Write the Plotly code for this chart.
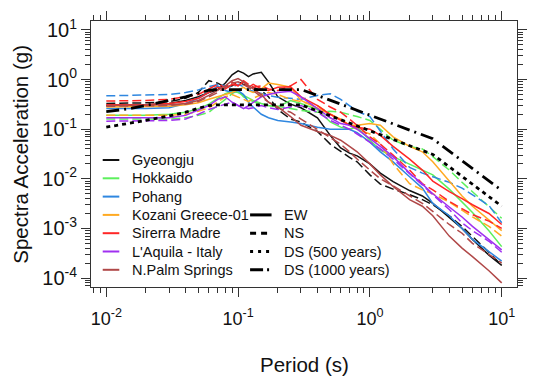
import plotly.graph_objects as go

# ---- response spectra of the recorded ground motions (period in s, Sa in g) ----
periods = [0.01, 0.02, 0.03, 0.04, 0.05, 0.06, 0.07, 0.08, 0.09, 0.10,
           0.11, 0.12, 0.13, 0.15, 0.17, 0.20, 0.25, 0.30, 0.40, 0.50,
           0.60, 0.70, 0.80, 1.0, 1.2, 1.5, 2.0, 2.5, 3.0, 4.0,
           5.0, 6.0, 8.0, 10.0]

gyeongju_ew = [0.30, 0.31, 0.33, 0.38, 0.45, 0.55, 0.62, 0.85, 1.25, 1.50,
               1.35, 1.15, 1.30, 1.40, 0.90, 0.45, 0.32, 0.27, 0.17, 0.075,
               0.042, 0.033, 0.029, 0.020, 0.013, 0.0088, 0.0058, 0.0045, 0.0032, 0.0017,
               0.0010, 0.0006, 0.00029, 0.00018]
gyeongju_ns = [0.33, 0.34, 0.36, 0.42, 0.55, 0.95, 0.85, 0.70, 0.75, 0.90,
               0.80, 0.75, 0.70, 0.60, 0.45, 0.25, 0.16, 0.14, 0.09, 0.05,
               0.035, 0.027, 0.022, 0.012, 0.0078, 0.0062, 0.0048, 0.0038, 0.0030, 0.0018,
               0.0011, 0.0007, 0.00033, 0.00018]

hokkaido_ew = [0.19, 0.19, 0.20, 0.22, 0.26, 0.32, 0.42, 0.52, 0.58, 0.55,
               0.48, 0.42, 0.38, 0.33, 0.30, 0.28, 0.38, 0.33, 0.25, 0.14,
               0.11, 0.10, 0.11, 0.06, 0.038, 0.028, 0.020, 0.015, 0.012, 0.0062,
               0.0035, 0.0021, 0.0009, 0.00043]
hokkaido_ns = [0.16, 0.16, 0.16, 0.17, 0.19, 0.22, 0.30, 0.40, 0.52, 0.60,
               0.45, 0.40, 0.36, 0.32, 0.30, 0.29, 0.26, 0.24, 0.22, 0.23,
               0.22, 0.20, 0.18, 0.15, 0.10, 0.06, 0.045, 0.040, 0.028, 0.015,
               0.0085, 0.0055, 0.0028, 0.0016]

pohang_ew = [0.26, 0.26, 0.27, 0.33, 0.42, 0.55, 0.75, 0.60, 0.55, 0.60,
             0.50, 0.35, 0.28, 0.20, 0.17, 0.15, 0.14, 0.13, 0.11, 0.10,
             0.10, 0.10, 0.085, 0.055, 0.035, 0.022, 0.011, 0.0065, 0.0032, 0.0018,
             0.0010, 0.0006, 0.00034, 0.00022]
pohang_ns = [0.47, 0.48, 0.50, 0.55, 0.62, 0.72, 0.80, 0.75, 0.70, 0.80,
             0.72, 0.62, 0.58, 0.52, 0.48, 0.44, 0.42, 0.40, 0.48, 0.52,
             0.40, 0.30, 0.23, 0.18, 0.09, 0.040, 0.017, 0.013, 0.011, 0.0085,
             0.0065, 0.0048, 0.0029, 0.0013]

kozani_ew = [0.28, 0.28, 0.29, 0.31, 0.34, 0.40, 0.45, 0.50, 0.55, 0.62,
             0.70, 0.60, 0.55, 0.65, 0.85, 0.80, 0.70, 0.38, 0.26, 0.20,
             0.16, 0.12, 0.12, 0.13, 0.12, 0.07, 0.045, 0.035, 0.022, 0.009,
             0.0045, 0.0028, 0.0015, 0.0009]
kozani_ns = [0.19, 0.19, 0.19, 0.20, 0.23, 0.27, 0.35, 0.45, 0.50, 0.45,
             0.40, 0.36, 0.42, 0.50, 0.55, 0.50, 0.40, 0.36, 0.30, 0.20,
             0.16, 0.12, 0.10, 0.08, 0.05, 0.02, 0.008, 0.006, 0.005, 0.0034,
             0.0023, 0.0017, 0.0011, 0.0007]

sierra_ew = [0.31, 0.31, 0.33, 0.36, 0.42, 0.55, 0.70, 0.65, 0.80, 0.75,
             0.90, 0.70, 0.80, 0.65, 0.60, 0.70, 0.72, 0.45, 0.30, 0.20,
             0.15, 0.12, 0.11, 0.10, 0.075, 0.045, 0.025, 0.015, 0.009, 0.0055,
             0.0040, 0.0030, 0.0020, 0.0012]
sierra_ns = [0.37, 0.38, 0.40, 0.45, 0.50, 0.65, 0.80, 0.70, 0.90, 0.75,
             0.95, 0.80, 0.70, 0.75, 0.65, 0.60, 0.75, 1.00, 0.40, 0.28,
             0.22, 0.16, 0.12, 0.07, 0.05, 0.030, 0.015, 0.008, 0.006, 0.0035,
             0.0025, 0.0019, 0.0014, 0.0010]

laquila_ew = [0.17, 0.17, 0.17, 0.19, 0.24, 0.30, 0.40, 0.45, 0.35, 0.30,
              0.26, 0.30, 0.35, 0.45, 0.50, 0.55, 0.58, 0.45, 0.26, 0.17,
              0.13, 0.12, 0.10, 0.065, 0.045, 0.028, 0.013, 0.0078, 0.0050, 0.0027,
              0.0017, 0.0011, 0.0006, 0.00037]
laquila_ns = [0.145, 0.145, 0.15, 0.16, 0.20, 0.25, 0.28, 0.32, 0.35, 0.30,
              0.28, 0.26, 0.27, 0.30, 0.27, 0.25, 0.28, 0.30, 0.22, 0.15,
              0.12, 0.10, 0.08, 0.055, 0.04, 0.025, 0.013, 0.0075, 0.0048, 0.0024,
              0.0013, 0.0009, 0.00055, 0.00033]

npalm_ew = [0.30, 0.30, 0.31, 0.33, 0.38, 0.48, 0.60, 0.75, 0.95, 1.05,
            0.90, 0.75, 0.65, 0.50, 0.35, 0.28, 0.18, 0.12, 0.09, 0.075,
            0.060, 0.045, 0.035, 0.020, 0.012, 0.007, 0.0038, 0.0028, 0.0018, 0.0007,
            0.0004, 0.00027, 0.00014, 0.00008]
npalm_ns = [0.29, 0.29, 0.30, 0.32, 0.36, 0.45, 0.55, 0.70, 0.85, 0.90,
            0.80, 0.70, 0.60, 0.45, 0.35, 0.27, 0.22, 0.16, 0.10, 0.07,
            0.05, 0.035, 0.025, 0.015, 0.010, 0.0072, 0.0045, 0.0032, 0.0022, 0.0012,
            0.0008, 0.0005, 0.0003, 0.0002]

# ---- design spectra ----
ds_periods = [0.01, 0.015, 0.02, 0.03, 0.04, 0.05, 0.06, 0.07, 0.1, 0.2,
              0.3, 0.4, 0.5, 0.7, 1.0, 1.5, 2.0, 3.0, 4.0, 5.0,
              7.0, 10.0]
ds_500 = [0.11, 0.13, 0.15, 0.185, 0.22, 0.265, 0.30, 0.31, 0.31, 0.31,
          0.31, 0.233, 0.186, 0.133, 0.093, 0.062, 0.0465, 0.031, 0.0175, 0.0112,
          0.0057, 0.0028]
ds_1000 = [0.225, 0.26, 0.30, 0.375, 0.45, 0.535, 0.61, 0.63, 0.63, 0.63,
           0.63, 0.48, 0.385, 0.275, 0.193, 0.129, 0.0965, 0.064, 0.036, 0.023,
           0.0118, 0.0058]

records = [
    ("Gyeongju", "#111111", gyeongju_ew, gyeongju_ns),
    ("Hokkaido", "#5CF05C", hokkaido_ew, hokkaido_ns),
    ("Pohang", "#2F87E0", pohang_ew, pohang_ns),
    ("Kozani Greece-01", "#FFAA22", kozani_ew, kozani_ns),
    ("Sirerra Madre", "#FF2626", sierra_ew, sierra_ns),
    ("L'Aquila - Italy", "#A030F0", laquila_ew, laquila_ns),
    ("N.Palm Springs", "#B04848", npalm_ew, npalm_ns),
]

NS_DASH = "9px,4px"
DS500_DASH = "4px,4px"
DS1000_DASH = "13px,5px,2px,5px"
FONT = "Liberation Sans, Arial, sans-serif"
AXIS_COLOR = "#333333"

fig = go.Figure()
for name, color, ew, ns in records:
    fig.add_trace(go.Scatter(x=periods, y=ew, mode="lines", name=name + " EW",
                             line=dict(color=color, width=1.5), showlegend=False))
    fig.add_trace(go.Scatter(x=periods, y=ns, mode="lines", name=name + " NS",
                             line=dict(color=color, width=1.5, dash=NS_DASH),
                             showlegend=False))
fig.add_trace(go.Scatter(x=ds_periods, y=ds_500, mode="lines", name="DS (500 years)",
                         line=dict(color="black", width=2.8, dash=DS500_DASH),
                         showlegend=False))
fig.add_trace(go.Scatter(x=ds_periods, y=ds_1000, mode="lines", name="DS (1000 years)",
                         line=dict(color="black", width=2.8, dash=DS1000_DASH),
                         showlegend=False))

# ---- plot-area geometry (pixels) used to place the hand-drawn legends ----
W, H = 534, 377
ML, MR, MT, MB = 91, 6.5, 21, 90
pw, ph = W - ML - MR, H - MT - MB


def px_x(p):
    return (p - ML) / pw


def px_y(p):
    return (H - MB - p) / ph


shapes, annotations = [], []
row0, row_step = 160, 18.3
for i, (name, color, _, _) in enumerate(records):
    yy = px_y(row0 + i * row_step)
    shapes.append(dict(type="line", xref="paper", yref="paper",
                       x0=px_x(103), x1=px_x(120), y0=yy, y1=yy,
                       line=dict(color=color, width=2)))
    annotations.append(dict(text=name, xref="paper", yref="paper",
                            x=px_x(131), y=yy, xanchor="left", yanchor="middle",
                            showarrow=False, font=dict(size=14.5, color="#111111", family=FONT)))

styles = [("EW", "solid"), ("NS", "6px,5px"), ("DS (500 years)", "3px,5px"),
          ("DS (1000 years)", "13px,4px,2px,4px")]
for j, (label, dash) in enumerate(styles):
    yy = px_y(row0 + (j + 3) * row_step)
    shapes.append(dict(type="line", xref="paper", yref="paper",
                       x0=px_x(254), x1=px_x(276), y0=yy, y1=yy,
                       line=dict(color="black", width=3, dash=dash)))
    annotations.append(dict(text=label, xref="paper", yref="paper",
                            x=px_x(287), y=yy, xanchor="left", yanchor="middle",
                            showarrow=False, font=dict(size=14.5, color="#111111", family=FONT)))

# axis titles
annotations.append(dict(text="Period (s)", xref="paper", yref="paper",
                        x=0.5, y=px_y(364), xanchor="center", yanchor="middle",
                        showarrow=False, font=dict(size=20.5, color="#111111", family=FONT)))
annotations.append(dict(text="Spectra Acceleration (g)", xref="paper", yref="paper",
                        x=px_x(18), y=0.5, xanchor="center", yanchor="middle", textangle=-90,
                        showarrow=False, font=dict(size=20.5, color="#111111", family=FONT)))

x_major = [0.01, 0.1, 1, 10]
x_labels = ["10<sup>-2</sup>", "10<sup>-1</sup>", "10<sup>0</sup>", "10<sup>1</sup>"]
x_minor = [m * 10.0 ** e for e in range(-3, 1) for m in range(2, 10)]
y_major = [1e-4, 1e-3, 1e-2, 1e-1, 1, 10]
y_labels = ["10<sup>-4</sup>", "10<sup>-3</sup>", "10<sup>-2</sup>",
            "10<sup>-1</sup>", "10<sup>0</sup>", "10<sup>1</sup>"]
y_minor = [m * 10.0 ** e for e in range(-5, 1) for m in range(2, 10)]

axis_common = dict(type="log", showgrid=False, zeroline=False, showline=True,
                   linecolor=AXIS_COLOR, linewidth=1, mirror="allticks",
                   ticks="outside", ticklen=9, tickwidth=1, tickcolor=AXIS_COLOR,
                   tickmode="array")

fig.update_xaxes(range=[-2.116, 1.116], tickvals=x_major, ticktext=x_labels,
                 tickfont=dict(size=18, color="#111111", family=FONT),
                 ticklabelstandoff=6,
                 minor=dict(tickmode="array", tickvals=x_minor, ticks="outside",
                            ticklen=5, tickwidth=1, tickcolor=AXIS_COLOR),
                 **axis_common)
fig.update_yaxes(range=[-4.181, 1.181], tickvals=y_major, ticktext=y_labels,
                 tickfont=dict(size=20, color="#111111", family=FONT),
                 minor=dict(tickmode="array", tickvals=y_minor, ticks="outside",
                            ticklen=5, tickwidth=1, tickcolor=AXIS_COLOR),
                 **axis_common)

fig.update_layout(width=W, height=H, margin=dict(l=ML, r=MR, t=MT, b=MB),
                  plot_bgcolor="white", paper_bgcolor="white",
                  font=dict(family=FONT), showlegend=False,
                  shapes=shapes, annotations=annotations)

fig.write_html("out.html")
